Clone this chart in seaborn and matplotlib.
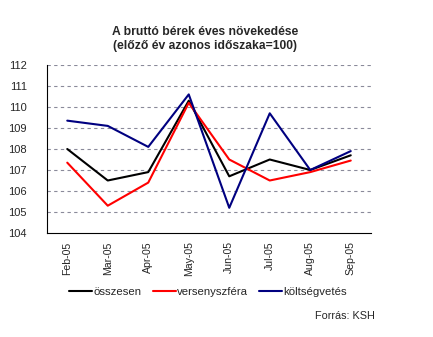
import matplotlib
matplotlib.use("Agg")
import matplotlib.pyplot as plt
import seaborn as sns
import pandas as pd
import numpy as np

months = ["Feb-05", "Mar-05", "Apr-05", "May-05", "Jun-05", "Jul-05", "Aug-05", "Sep-05"]
osszesen = [108.0, 106.5, 106.9, 110.3, 106.7, 107.5, 107.0, 107.7]
versenyszfera = [107.35, 105.3, 106.4, 110.2, 107.5, 106.5, 106.9, 107.45]
koltsegvetes = [109.35, 109.1, 108.1, 110.6, 105.2, 109.7, 107.0, 107.9]
series_names = ["összesen", "versenyszféra", "költségvetés"]
colors = ["#000000", "#ff0000", "#000080"]

df = pd.DataFrame({
    "hónap": months * 3,
    "pos": list(range(len(months))) * 3,
    "érték": osszesen + versenyszfera + koltsegvetes,
    "sorozat": [series_names[0]] * 8 + [series_names[1]] * 8 + [series_names[2]] * 8,
})

sns.set_style("white")
plt.rcParams["font.family"] = ["Liberation Sans", "DejaVu Sans"]

fig = plt.figure(figsize=(4.33, 3.37), dpi=100)
ax = fig.add_axes([47 / 433, 1 - 233 / 337, (371 - 47) / 433, (233 - 65) / 337])

sns.lineplot(data=df, x="pos", y="érték", hue="sorozat", palette=colors,
             hue_order=series_names, linewidth=1.5, ax=ax, legend=False, sort=False)

ax.set_xlim(-0.5, 7.5)
ax.set_ylim(104, 112)
ax.set_yticks(np.arange(104, 113, 1))
ax.set_yticklabels([str(v) for v in range(104, 113)], fontsize=8)
for y in range(105, 113):
    ax.axhline(y, color="#8a8a9a", linestyle=(0, (3, 3)), linewidth=0.8, zorder=0)

ax.set_xticks(np.arange(-0.5, 8.0, 1.0))
ax.set_xticklabels([])
ax.set_xticks(np.arange(len(months)), minor=True)
ax.set_xticklabels(months, minor=True, rotation=90, fontsize=7.6)
ax.tick_params(axis="x", which="minor", length=0, pad=6)
ax.tick_params(axis="x", which="major", length=3, width=0.8, direction="out", color="black")
ax.tick_params(axis="y", length=3, width=0.8, direction="out", color="black", pad=11.5)
ax.set_xlabel("")
ax.set_ylabel("")

for s in ["top", "right"]:
    ax.spines[s].set_visible(False)
for s in ["left", "bottom"]:
    ax.spines[s].set_color("black")
    ax.spines[s].set_linewidth(0.8)

fig.text(205 / 433, 1 - 32 / 337, "A bruttó bérek éves növekedése", ha="center", va="center",
         fontsize=8.7, fontweight="bold")
fig.text(205 / 433, 1 - 46 / 337, "(előző év azonos időszaka=100)", ha="center", va="center",
         fontsize=8.7, fontweight="bold")

handles = [plt.Line2D([0], [0], color=c, linewidth=1.5) for c in colors]
fig.legend(handles, series_names, loc="center", bbox_to_anchor=(208 / 433, 1 - 292 / 337),
           ncol=3, frameon=False, fontsize=8.2, handlelength=2.0, handletextpad=0.1,
           columnspacing=1.0)

fig.text(375 / 433, 1 - 316 / 337, "Forrás: KSH", ha="right", va="center", fontsize=7.8)

fig.savefig("out.png", dpi=100)
